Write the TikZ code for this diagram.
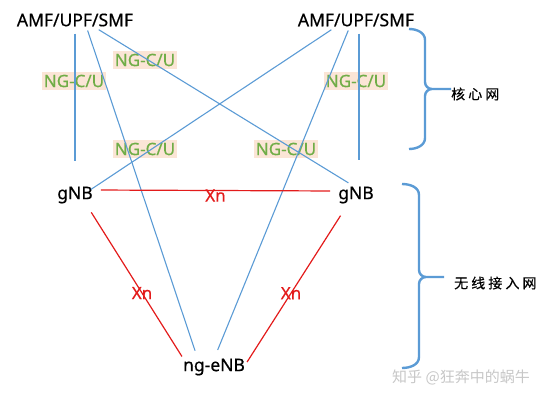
\documentclass[tikz,border=0pt]{standalone}
\usepackage{fontspec}
\setmainfont{Noto Sans}[FakeBold=0.5]
\newfontfamily\cjk[LetterSpace=22,FakeBold=0.4]{Noto Sans CJK SC}
\newfontfamily\cjkmark{Noto Sans CJK SC}
\definecolor{linkblue}{HTML}{5B9BD5}
\definecolor{xnred}{HTML}{E31B1B}
\definecolor{nggreen}{HTML}{70AD47}
\definecolor{ngfill}{HTML}{FBE5D6}
\tikzset{
  elem/.style={inner sep=2pt,font=\fontsize{17.5}{19}\selectfont},
  link/.style={draw=linkblue,line width=1.1pt},
  xn/.style={draw=xnred,line width=1.2pt},
  xnlabel/.style={text=xnred,inner sep=0pt,font=\fontsize{17}{19}\selectfont},
  iflabel/.style={fill=ngfill,text=nggreen,inner xsep=1.5pt,inner ysep=2.5pt,font=\fontsize{17}{19}\selectfont},
  bracket/.style={draw=linkblue,line width=2.4pt,line join=round},
  netlabel/.style={anchor=west,inner sep=0pt,font=\cjk\fontsize{14}{16}\selectfont},
}
\begin{document}
\begin{tikzpicture}[x=1pt,y=-1pt]
\useasboundingbox (0,0) rectangle (552,400);

\node[iflabel] (ng1) at (145,60) {NG-C/U};
\node[iflabel] (ng2) at (74,81) {NG-C/U};
\node[iflabel] (ng3) at (145,149) {NG-C/U};
\node[iflabel] (ng4) at (286,149) {NG-C/U};
\node[iflabel] (ng5) at (356,81) {NG-C/U};

\node[elem] (amfL) at (75,20) {AMF/UPF/SMF};
\node[elem] (amfR) at (356,20) {AMF/UPF/SMF};
\node[elem] (gnbL) at (75,195) {gNB};
\node[elem] (gnbR) at (356,195) {gNB};
\node[elem] (enb) at (214,367) {ng-eNB};

% core links
\draw[link,shorten <=5pt,shorten >=23pt] (amfL.south) -- (gnbL.north);
\draw[link,shorten <=2pt,shorten >=6pt] ([xshift=12pt]amfL.south) -- ([xshift=-17pt]enb.north);
\draw[link,shorten <=2pt,shorten >=3pt] ([xshift=22pt]amfL.south) -- ([xshift=-5pt]gnbR.north);
\draw[link,shorten <=2pt] ([xshift=-23pt]amfR.south) -- ([xshift=-4pt,yshift=-5pt]gnbL.north east);
\draw[link,shorten <=2pt,shorten >=7pt] ([xshift=-7pt]amfR.south) -- ([xshift=1pt]enb.north);
\draw[link,shorten <=5pt,shorten >=24pt] ([xshift=3pt]amfR.south) -- ([xshift=3pt]gnbR.north);

% Xn links
\draw[xn,shorten <=6pt,shorten >=6pt] ([yshift=5pt]gnbL.east) -- ([yshift=4pt]gnbR.west)
  node[xnlabel,pos=0.5,yshift=-5pt] {Xn};
\draw[xn,shorten <=8pt] ([xshift=12pt]gnbL.south) -- ([xshift=1pt]enb.north west)
  node[xnlabel,pos=0.58] {Xn};
\draw[xn,shorten <=12pt] ([xshift=-9pt]gnbR.south) -- ([yshift=5pt]enb.east)
  node[xnlabel,pos=0.56] {Xn};

\node[netlabel] (core) at (451,94) {核心网};
\draw[bracket] (409,29) to[out=0,in=90] (425,40) -- (425,82) to[out=-90,in=180] (432,89) -- (451,89)
  (432,89) to[out=180,in=90] (425,96) -- (425,138) to[out=-90,in=0] (409,149);

\node[netlabel] (ran) at (454,283) {无线接入网};
\draw[bracket] (402,184) to[out=0,in=90] (419,195) -- (419,270) to[out=-90,in=180] (426,277) -- (444,277)
  (426,277) to[out=180,in=90] (419,284) -- (419,357) to[out=-90,in=0] (402,368);

\node[text=black!22,font=\cjkmark\fontsize{15}{17}\selectfont] (mark) at (461,377) {知乎 @狂奔中的蜗牛};
\end{tikzpicture}
\end{document}
